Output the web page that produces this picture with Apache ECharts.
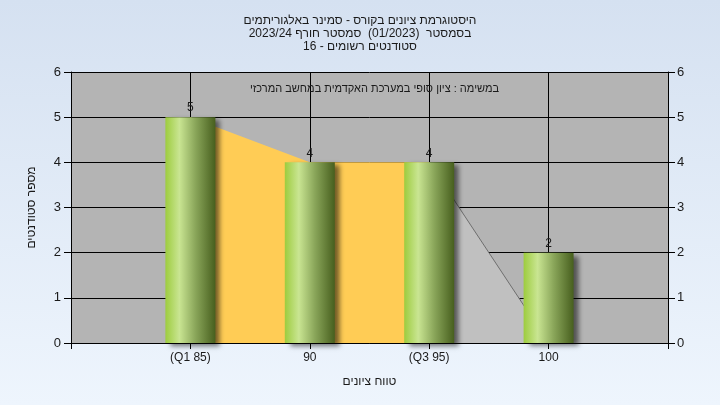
<!DOCTYPE html>
<html>
<head>
<meta charset="utf-8">
<script src="https://cdn.jsdelivr.net/npm/echarts@6/dist/echarts.min.js"></script>
<style>
html,body{margin:0;padding:0;}
body{width:720px;height:405px;background:linear-gradient(to bottom,#d5e1f1 0%,#eef5fd 100%);}
#c{width:720px;height:405px;}
</style>
</head>
<body>
<div id="c"></div>
<script>
var categories = ['', '(Q1 85)', '90', '(Q3 95)', '100', ''];
var counts = ['-', 5, 4, 4, 2, '-'];
var iqrArea = ['-', 5, 4, 4, '-', '-'];
var tailArea = ['-', '-', '-', 4, 0, '-'];
var yTicks = [0, 1, 2, 3, 4, 5, 6];
var titleLines = ['היסטוגרמת ציונים בקורס - סמינר באלגוריתמים', 'בסמסטר  (01/2023)  סמסטר חורף 2023/24', 'סטודנטים רשומים - 16'];
var subText = 'במשימה : ציון סופי במערכת האקדמית במחשב המרכזי';

var font = 'Liberation Sans, Arial, sans-serif';
var chart = echarts.init(document.getElementById('c'), null, {renderer: 'canvas'});
var barGrad = new echarts.graphic.LinearGradient(0, 0, 1, 0, [
  {offset: 0, color: '#9dcc3e'},
  {offset: 0.28, color: '#c9e592'},
  {offset: 0.6, color: '#8aa65a'},
  {offset: 1, color: '#475f1e'}
]);
chart.setOption({
  backgroundColor: 'transparent',
  animation: false,
  title: [{
    text: titleLines.join('\n'),
    left: 'center', top: 9,
    textStyle: {fontFamily: font, fontSize: 12, fontWeight: 'normal', color: '#1a1a1a', lineHeight: 13, align: 'center'}
  }, {
    text: subText,
    left: 369.5, textAlign: 'center', top: 78,
    textStyle: {fontFamily: font, fontSize: 11, fontWeight: 'normal', color: '#1a1a1a'}
  }],
  grid: {left: 71, right: 52, top: 72, bottom: 62, show: true, backgroundColor: '#b4b4b4', borderWidth: 0},
  xAxis: {
    type: 'category', data: categories, boundaryGap: false,
    name: 'טווח ציונים', nameLocation: 'middle', nameGap: 33,
    nameTextStyle: {fontFamily: font, fontSize: 12, color: '#1a1a1a'},
    axisLine: {lineStyle: {color: '#000', width: 1}},
    axisTick: {show: true, length: 6, lineStyle: {color: '#000'}, alignWithLabel: true},
    axisLabel: {fontFamily: font, fontSize: 12, color: '#1a1a1a', margin: 9, interval: 0},
    splitLine: {show: true, lineStyle: {color: '#000', width: 1}}
  },
  yAxis: [{
    type: 'value', min: 0, max: 6, interval: 1,
    name: 'מספר סטודנטים', nameLocation: 'middle', nameGap: 33,
    nameTextStyle: {fontFamily: font, fontSize: 12, color: '#1a1a1a'},
    axisLine: {show: true, lineStyle: {color: '#000'}},
    axisTick: {show: true, length: 7, lineStyle: {color: '#000'}},
    axisLabel: {fontFamily: font, fontSize: 13, color: '#1a1a1a', margin: 10,
      formatter: function (v) { return yTicks.indexOf(v) >= 0 ? String(v) : ''; }},
    splitLine: {show: true, lineStyle: {color: '#000', width: 1}}
  }, {
    type: 'value', min: 0, max: 6, interval: 1, position: 'right',
    axisLine: {show: true, lineStyle: {color: '#000'}},
    axisTick: {show: true, length: 7, lineStyle: {color: '#000'}},
    axisLabel: {fontFamily: font, fontSize: 13, color: '#1a1a1a', margin: 9},
    splitLine: {show: false}
  }],
  series: [{
    type: 'line', data: iqrArea, symbol: 'none', z: 2,
    lineStyle: {width: 0},
    areaStyle: {color: '#ffcc55', opacity: 1}
  }, {
    type: 'line', data: tailArea, symbol: 'none', z: 2,
    lineStyle: {width: 1, color: '#6e6e6e'},
    areaStyle: {color: '#c0c0c0', opacity: 1}
  }, {
    type: 'bar', data: counts, barWidth: 50, z: 5,
    itemStyle: {color: barGrad, shadowColor: 'rgba(0,0,0,0.55)', shadowBlur: 5, shadowOffsetX: 5, shadowOffsetY: 3},
    label: {show: true, position: 'top', distance: 3, fontFamily: font, fontSize: 12, color: '#1a1a1a'}
  }]
});
</script>
</body>
</html>
